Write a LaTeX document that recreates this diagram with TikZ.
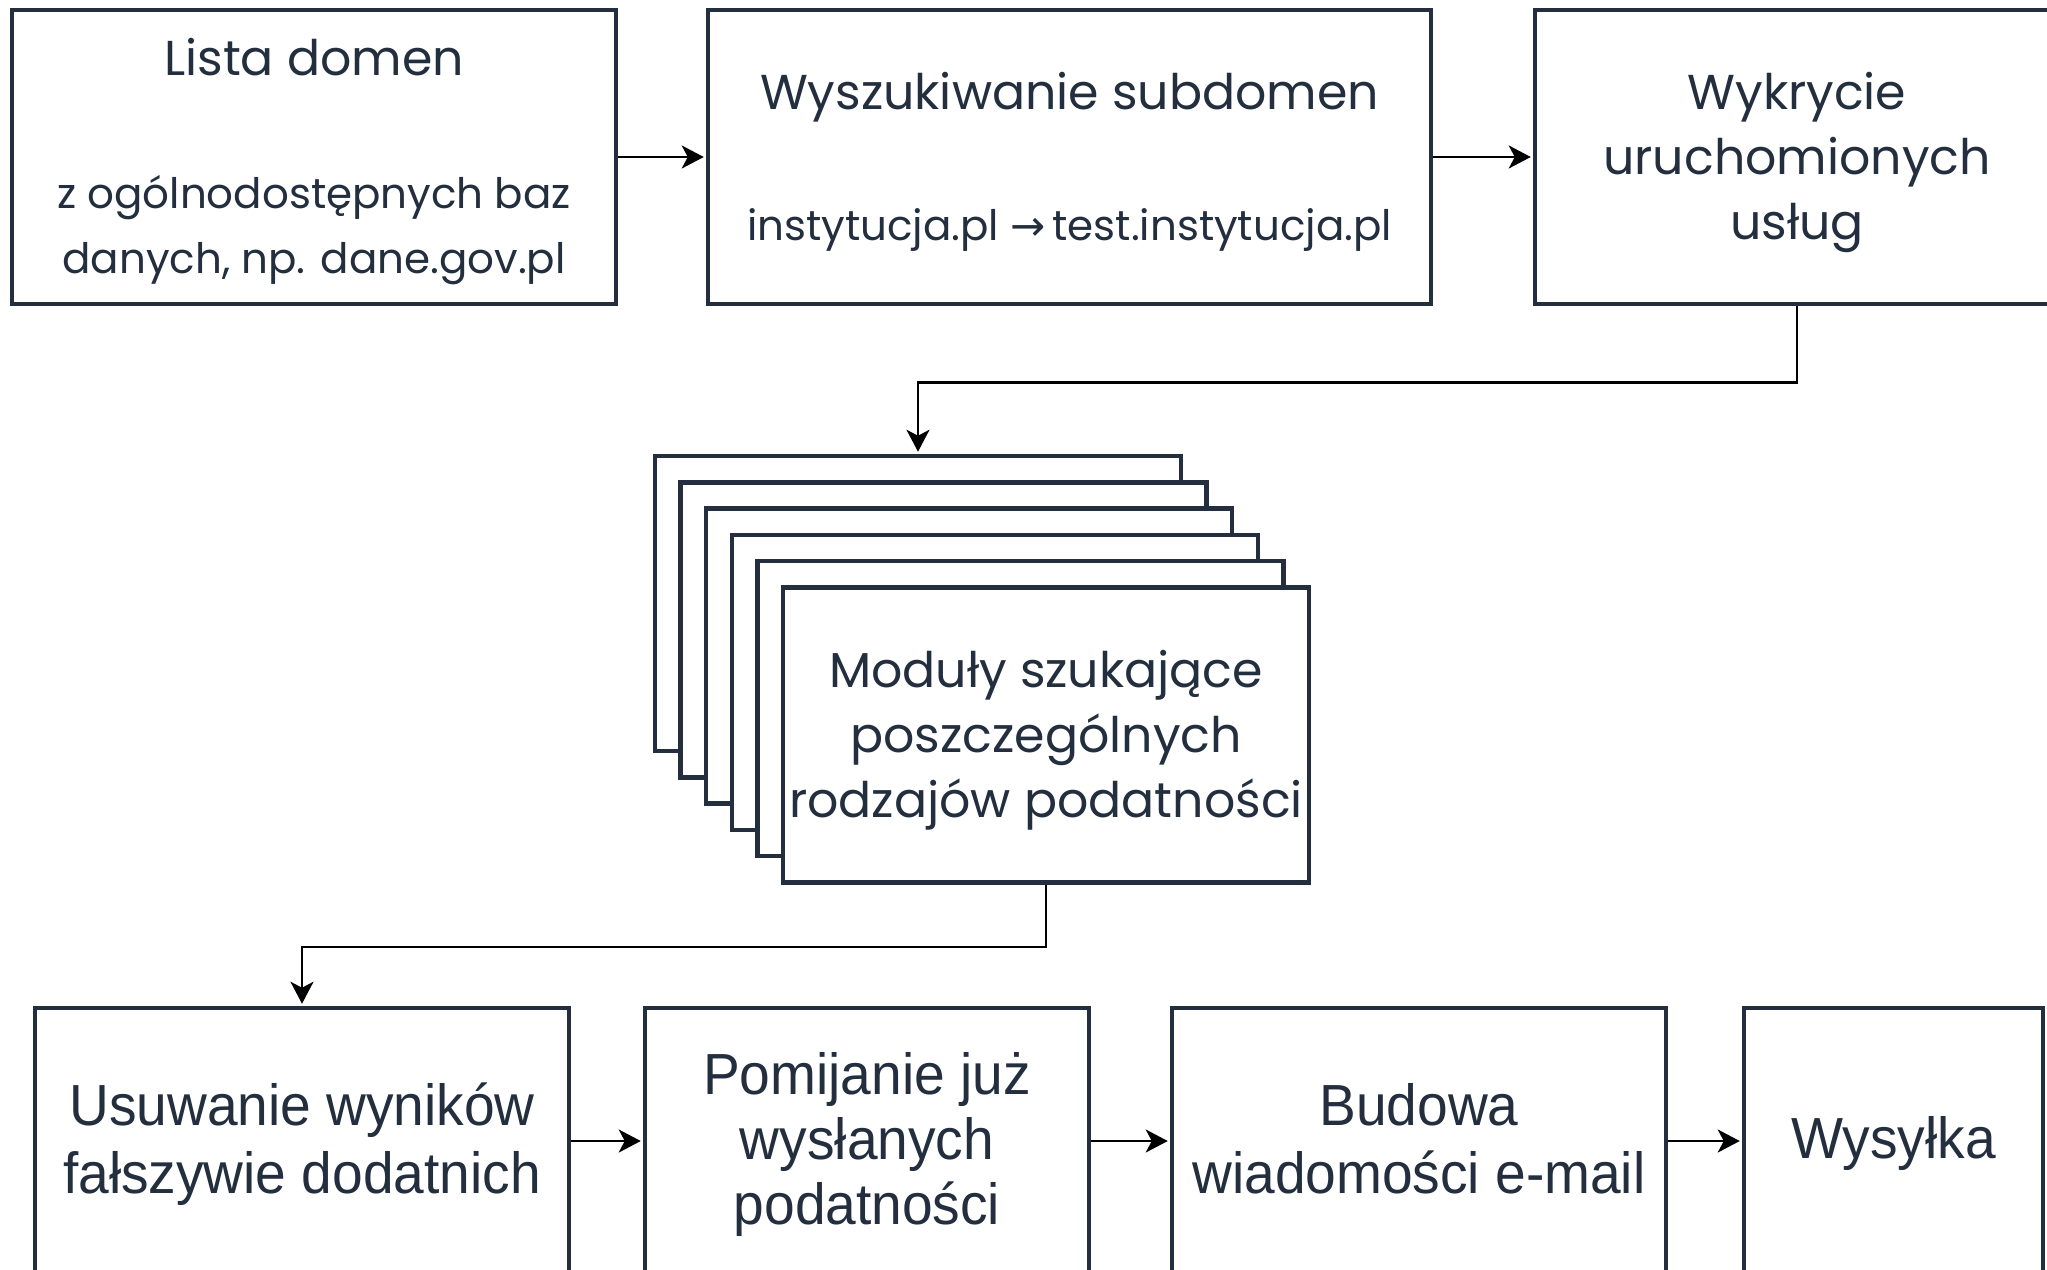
\documentclass[tikz,border=0pt]{standalone}
\usepackage{fontspec}
\usetikzlibrary{arrows.meta}
\newfontfamily\topfont{Poppins}
\newfontfamily\botfont[FakeStretch=0.95]{Liberation Sans}
\definecolor{ink}{HTML}{232F3E}
\tikzset{
  box/.style={draw=ink, line width=4.5pt, fill=white, inner sep=0pt, minimum width=#1},
  box/.default=500,
  tt/.style={text=ink, inner sep=0pt, anchor=base, font=\topfont\fontsize{49}{55}\selectfont},
  ts/.style={text=ink, inner sep=0pt, anchor=base, font=\topfont\fontsize{42}{48}\selectfont},
  tb/.style={text=ink, inner sep=0pt, anchor=base, font=\botfont\fontsize{58}{64}\selectfont},
  conn/.style={draw=black, line width=2.5pt, shorten >=2pt, -{Stealth[length=22pt, width=23pt, inset=6pt]}},
}
\begin{document}
\begin{tikzpicture}[x=1pt, y=-1pt]
\useasboundingbox (0,0) rectangle (2047,1269);
% top row
\node[box=604, minimum height=294] (b1) at (314,157) {};
\node[box=723, minimum height=294] (b2) at (1069.5,157) {};
\node[box=524, minimum height=294] (b3) at (1797,157) {};
\node[tt] (b1a) at (314,75) {Lista domen};
\node[ts] (b1b) at (314,208) {z ogólnodostępnych baz};
\node[ts] (b1c) at (314,273) {danych, np. dane.gov.pl};
\node[tt] (b2a) at (1069.5,109) {Wyszukiwanie subdomen};
\node[ts] (b2b) at (1069.5,240) {instytucja.pl {\fontspec{DejaVu Sans}→}\,test.instytucja.pl};
\node[tt] (b3a) at (1797,109) {Wykrycie};
\node[tt] (b3b) at (1797,174) {uruchomionych};
\node[tt] (b3c) at (1797,239) {usług};
% stack
\foreach \i in {0,...,5} {
  \node[box=526, minimum height=295] (s\i) at ({918+25.6*\i},{603.5+26.3*\i}) {};
}
\node[tt] (s5a) at (1046,687) {Moduły szukające};
\node[tt] (s5b) at (1046,752) {poszczególnych};
\node[tt] (s5c) at (1046,817) {rodzajów podatności};
% bottom row
\node[box=534, minimum height=266] (c1) at (302,1141) {};
\node[box=444, minimum height=266] (c2) at (867,1141) {};
\node[box=494, minimum height=266] (c3) at (1419,1141) {};
\node[box=299, minimum height=266] (c4) at (1893.5,1141) {};
\node[tb] (c1a) at (302,1125) {Usuwanie wyników};
\node[tb] (c1b) at (302,1193) {fałszywie dodatnich};
\node[tb] (c2a) at (867,1094) {Pomijanie już};
\node[tb] (c2b) at (867,1159) {wysłanych};
\node[tb] (c2c) at (867,1224) {podatności};
\node[tb] (c3a) at (1419,1125) {Budowa};
\node[tb] (c3b) at (1419,1193) {wiadomości e-mail};
\node[tb] (c4a) at (1893.5,1158) {Wysyłka};
% connectors
\draw[conn] (b1.east) -- (b2.west);
\draw[conn] (b2.east) -- (b3.west);
\draw[conn] (b3.south) -- ++(0,76) -| (s0.north);
\draw[conn] (s5.south) -- ++(0,62) -| (c1.north);
\draw[conn] (c1.east) -- (c2.west);
\draw[conn] (c2.east) -- (c3.west);
\draw[conn] (c3.east) -- (c4.west);
\end{tikzpicture}
\end{document}
